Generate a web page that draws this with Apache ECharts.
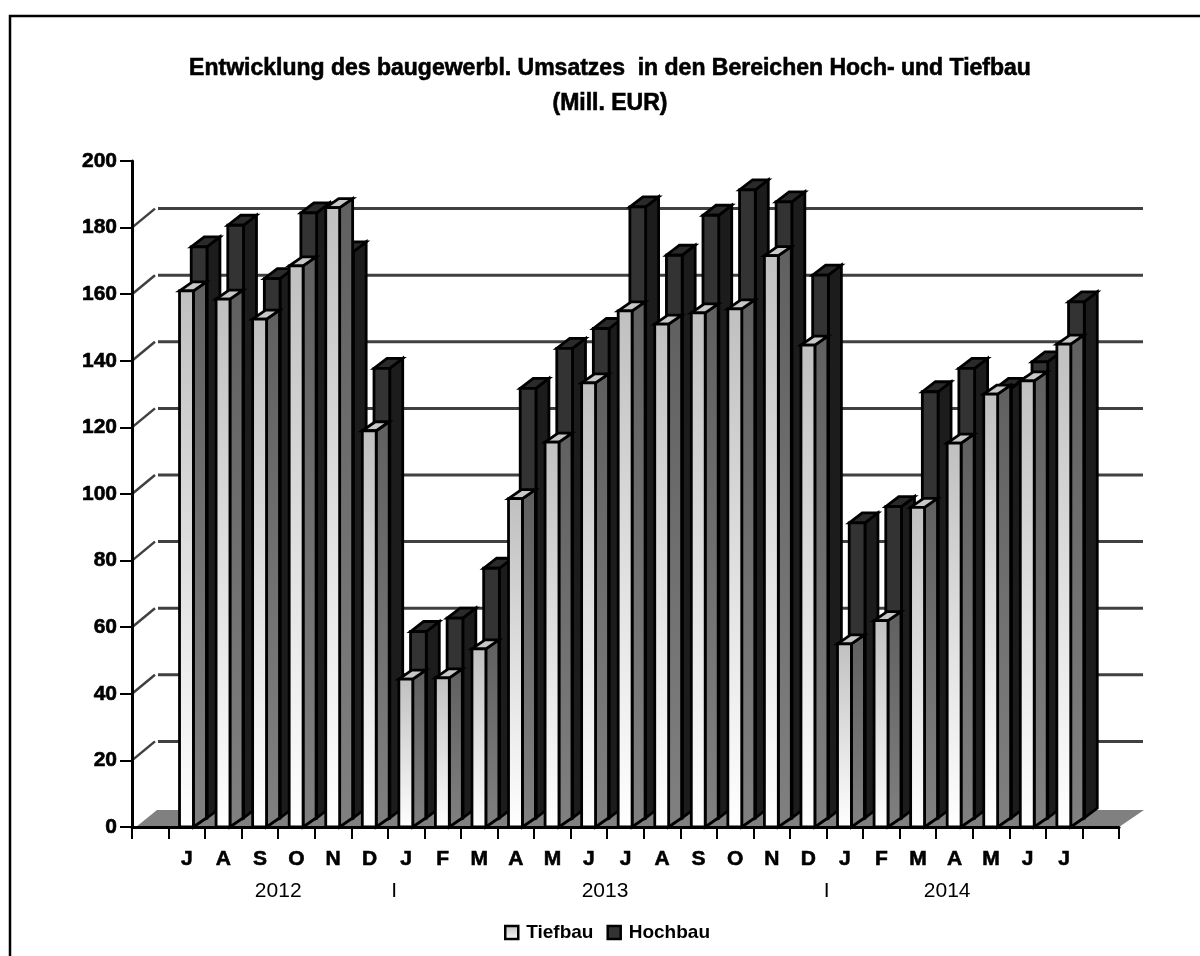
<!DOCTYPE html>
<html>
<head>
<meta charset="utf-8">
<style>
  html, body { margin: 0; padding: 0; background: #fff; }
  #chart { width: 1200px; height: 956px; }
</style>
<script src="https://cdn.jsdelivr.net/npm/echarts@6/dist/echarts.min.js"></script>
</head>
<body>
<div id="chart"></div>
<script>
const months = ['', 'J', 'A', 'S', 'O', 'N', 'D', 'J', 'F', 'M', 'A', 'M', 'J', 'J', 'A', 'S', 'O', 'N', 'D', 'J', 'F', 'M', 'A', 'M', 'J', 'J', '']
const tiefbau = [161, 158.5, 152.5, 168.5, 186, 119, 44.4, 44.8, 53.5, 98.6, 115.6, 133.4, 155, 151, 154.4, 155.6, 171.6, 144.7, 55, 62, 96, 115.3, 130, 134, 145]
const hochbau = [171.5, 178, 162, 181.7, 170, 135, 56, 60, 75, 129, 141, 147, 183.5, 169, 181, 188.6, 185, 163, 88.6, 93.5, 128, 135, 129, 137, 155]
const wallTicks = [0, 20, 40, 60, 80, 100, 120, 140, 160, 180]
const yearLabels = ['2012', 'I', '2013', 'I', '2014']
const yearSlots = [4, 7.17, 12.94, 19, 22.3]

const FONT = '"Liberation Sans", Arial, sans-serif'
// depth of the fake 3d wall behind the bars
const WALL_DX = 23
const WALL_DY = -19
// original text is heavier than Liberation bold, thicken it a bit
const HEAVY = { textBorderColor: '#000', textBorderWidth: 0.6 }

// Box drawn by hand because ECharts has no 3d bar without echarts-gl
const bar3d = (opt) => (params, api) => {
  const cat = api.value(0)
  const c = api.coord([cat, 0])
  const top = api.coord([cat, api.value(1)])
  const band = api.size([1, 0])[0]
  const x0 = c[0] + band * opt.shift
  const x1 = x0 + band * opt.width
  const base = c[1] + opt.lift
  const y = top[1] + opt.lift
  const dx = opt.dx
  const dy = opt.dy
  const style = (fill) => ({ fill, stroke: '#000', lineWidth: 2.8, lineJoin: 'miter' })
  return {
    type: 'group',
    children: [
      { type: 'polygon', shape: { points: [[x1, y], [x1 + dx, y + dy], [x1 + dx, base + dy], [x1, base]] }, style: style(opt.side) },
      { type: 'polygon', shape: { points: [[x0, y], [x0 + dx, y + dy], [x1 + dx, y + dy], [x1, y]] }, style: style(opt.top) },
      { type: 'rect', shape: { x: x0, y, width: x1 - x0, height: base - y }, style: style(opt.front) },
    ],
  }
}

const vgrad = (from, to) => ({
  type: 'linear', x: 0, y: 0, x2: 0, y2: 1,
  colorStops: [{ offset: 0, color: from }, { offset: 1, color: to }],
})

const renderWall = (params, api) => {
  const cs = params.coordSys
  const y = api.coord([0, api.value(0)])[1]
  const left = cs.x
  const right = cs.x + cs.width
  if (api.value(0) === 0) {
    return {
      type: 'polygon',
      shape: { points: [[left + 4, y], [left + WALL_DX + 2, y - 17], [right + 25, y - 17], [right, y]] },
      style: { fill: '#808080' },
    }
  }
  return {
    type: 'group',
    children: [
      { type: 'line', shape: { x1: left, y1: y, x2: left + WALL_DX, y2: y + WALL_DY }, style: { stroke: '#404040', lineWidth: 2.5 } },
      { type: 'line', shape: { x1: left + WALL_DX + 3, y1: y + WALL_DY, x2: right + 24, y2: y + WALL_DY }, style: { stroke: '#404040', lineWidth: 3 } },
    ],
  }
}

const chart = echarts.init(document.getElementById('chart'), undefined, { renderer: 'canvas' })

chart.setOption({
  animation: false,
  backgroundColor: '#fff',
  textStyle: { fontFamily: FONT },
  graphic: [
    // page frame: only top and left are visible in the original
    { type: 'polyline', z: -1, shape: { points: [[10, 956], [10, 16], [1200, 16]] }, style: { fill: 'none', stroke: '#000', lineWidth: 2.5 } },
  ],
  title: {
    text: 'Entwicklung des baugewerbl. Umsatzes  in den Bereichen Hoch- und Tiefbau\n(Mill. EUR)',
    left: 605,
    top: 46,
    textAlign: 'center',
    textStyle: { fontFamily: FONT, fontSize: 23, fontWeight: 'bold', color: '#000', lineHeight: 35, ...HEAVY },
  },
  legend: {
    left: 499,
    top: 918,
    itemWidth: 13,
    itemHeight: 13,
    itemGap: 13,
    selectedMode: false,
    textStyle: { fontFamily: FONT, fontSize: 19, fontWeight: 'bold', color: '#000', padding: [0, 0, 0, 3] },
    data: [
      { name: 'Tiefbau', icon: 'rect', itemStyle: { color: vgrad('#c0c0c0', '#ffffff'), borderColor: '#000', borderWidth: 2.5 } },
      { name: 'Hochbau', icon: 'rect', itemStyle: { color: '#333333', borderColor: '#000', borderWidth: 2.5 } },
    ],
  },
  grid: { left: 132, right: 81, top: 161, bottom: 129 },
  xAxis: [
    {
      type: 'category',
      data: months,
      boundaryGap: true,
      axisLine: { lineStyle: { color: '#000', width: 3 } },
      axisTick: { show: true, interval: 0, length: 12, lineStyle: { color: '#000', width: 2 } },
      axisLabel: { interval: 0, margin: 22, color: '#000', fontFamily: FONT, fontSize: 21, fontWeight: 'bold', ...HEAVY },
      z: 5,
    },
    {
      // year row sits on its own scale because its labels fall between the months
      type: 'value',
      position: 'bottom',
      min: 0,
      max: 27,
      axisLine: { show: false },
      axisTick: { show: false },
      splitLine: { show: false },
      axisLabel: {
        customValues: yearSlots,
        margin: 54,
        color: '#000',
        fontFamily: FONT,
        fontSize: 21,
        formatter: (v) => yearLabels[yearSlots.indexOf(v)],
      },
    },
  ],
  yAxis: {
    type: 'value',
    min: 0,
    max: 200,
    interval: 20,
    axisLine: { show: true, lineStyle: { color: '#000', width: 3 } },
    axisTick: { show: true, length: 12, lineStyle: { color: '#000', width: 2 } },
    axisLabel: { margin: 15, padding: [3, 0, 0, 0], color: '#000', fontFamily: FONT, fontSize: 21, fontWeight: 'bold', ...HEAVY },
    splitLine: { show: false },
    z: 5,
  },
  series: [
    {
      name: 'wall',
      type: 'custom',
      z: 1,
      data: wallTicks.map((v) => [v]),
      encode: { y: 0 },
      renderItem: renderWall,
      silent: true,
    },
    {
      name: 'Hochbau',
      type: 'custom',
      z: 2,
      data: hochbau.map((v, i) => [i + 1, v]),
      encode: { x: 0, y: 1 },
      itemStyle: { color: '#333333' },
      renderItem: bar3d({ shift: 0.12, width: 0.43, lift: -9, dx: 13, dy: -10, front: '#333333', side: '#1c1c1c', top: '#2a2a2a' }),
    },
    {
      name: 'Tiefbau',
      type: 'custom',
      z: 3,
      data: tiefbau.map((v, i) => [i + 1, v]),
      encode: { x: 0, y: 1 },
      itemStyle: { color: '#c0c0c0' },
      renderItem: bar3d({ shift: -0.2, width: 0.38, lift: 0, dx: 13, dy: -9, front: vgrad('#c0c0c0', '#ffffff'), side: vgrad('#606060', '#808080'), top: '#c8c8c8' }),
    },
  ],
})
</script>
</body>
</html>
